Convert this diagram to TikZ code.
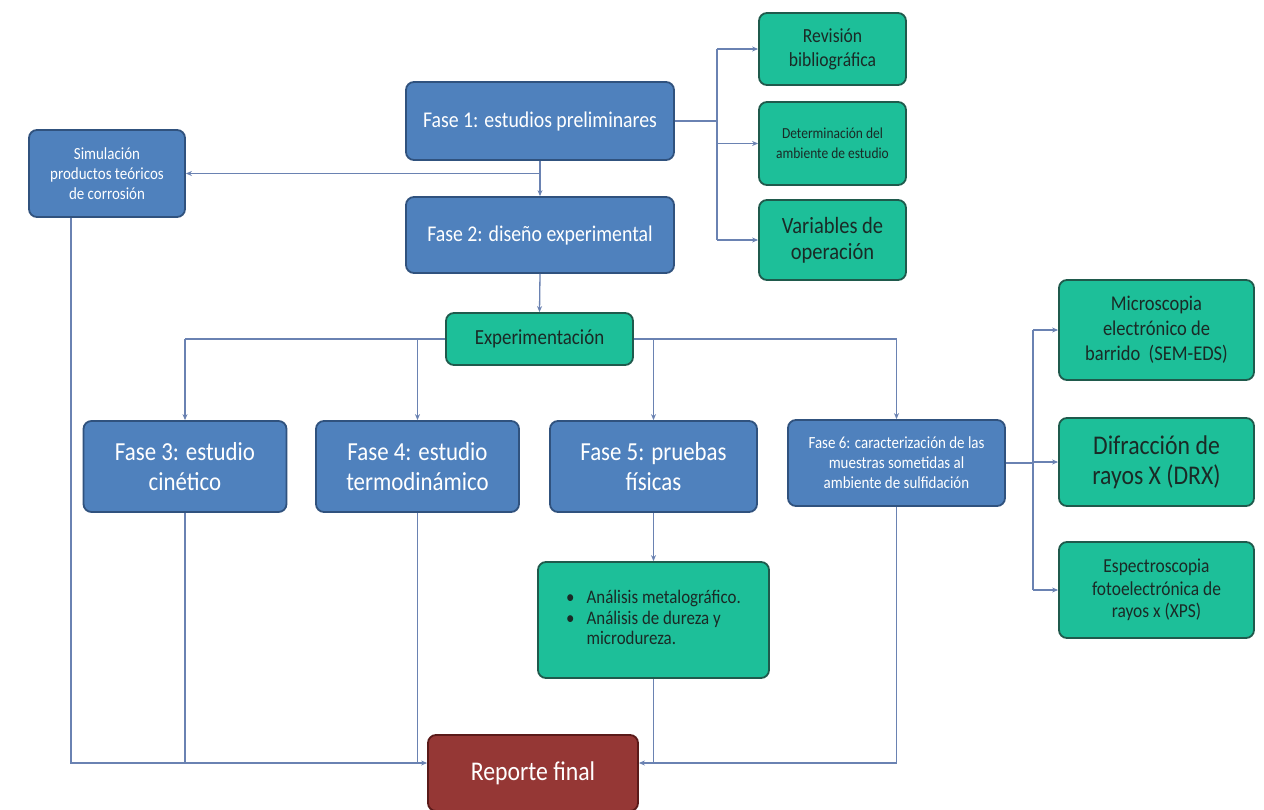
\documentclass[tikz,border=0pt]{standalone}
\usepackage{fontspec}
\setmainfont{Carlito}[FakeStretch=0.88]
\usetikzlibrary{arrows.meta}
\definecolor{bfill}{HTML}{4F81BD}
\definecolor{bdraw}{HTML}{30527E}
\definecolor{gfill}{HTML}{1DBF99}
\definecolor{gdraw}{HTML}{1F5A4C}
\definecolor{rfill}{HTML}{953735}
\definecolor{rdraw}{HTML}{5A1A19}
\definecolor{conn}{HTML}{6A82B2}
\definecolor{gtext}{HTML}{1A2A26}
\begin{document}
\begin{tikzpicture}[x=1pt,y=-1pt,
  box/.style={rectangle,rounded corners=8pt,line width=1.8pt,align=center,inner sep=2pt},
  bluebox/.style={box,fill=bfill,draw=bdraw,text=white},
  greenbox/.style={box,fill=gfill,draw=gdraw,text=gtext},
  redbox/.style={box,fill=rfill,draw=rdraw,text=white},
  fs/.style n args={2}{font=\fontsize{#1}{#2}\selectfont},
  line/.style={draw=conn,line width=1.3pt},
  arr/.style={line,-{Stealth[length=6pt,width=5pt]}}]
\useasboundingbox (0,0) rectangle (1264,809);
\fill[white] (0,0) rectangle (1264,809);

% nodes
\node[bluebox,fs={22.5}{26},minimum width=268pt,minimum height=78pt] (f1) at (540,121) {Fase 1: estudios preliminares};
\node[bluebox,fs={17}{20},minimum width=156pt,minimum height=87pt] (sim) at (107,173.5) {Simulación\\productos teóricos\\de corrosión};
\node[bluebox,fs={22.5}{26},minimum width=268pt,minimum height=76pt] (f2) at (540,235) {Fase 2: diseño experimental};
\node[greenbox,fs={20}{24},minimum width=147pt,minimum height=72pt] (rev) at (832.5,49) {Revisión\\bibliográfica};
\node[greenbox,fs={15.3}{20},minimum width=147pt,minimum height=83pt] (det) at (832.5,143.5) {Determinación del\\ambiente de estudio};
\node[greenbox,fs={23.3}{26},minimum width=147pt,minimum height=80pt] (var) at (832.5,240) {Variables de\\operación};
\node[greenbox,fs={21.5}{23},minimum width=187pt,minimum height=52pt] (exp) at (539.5,339) {Experimentación};
\node[bluebox,fs={26}{30},minimum width=203pt,minimum height=91pt] (f3) at (185,466.5) {Fase 3: estudio\\cinético};
\node[bluebox,fs={26}{30},minimum width=203pt,minimum height=91pt] (f4) at (417.5,466.5) {Fase 4: estudio\\termodinámico};
\node[bluebox,fs={26}{30},minimum width=207pt,minimum height=91pt] (f5) at (653.5,466.5) {Fase 5: pruebas\\físicas};
\node[bluebox,fs={17}{20},minimum width=217pt,minimum height=86pt] (f6) at (896.5,463) {Fase 6: caracterización de las\\muestras sometidas al\\ambiente de sulfidación};
\node[greenbox,fs={21}{25},minimum width=195pt,minimum height=100pt] (mic) at (1156.5,330) {Microscopia\\electrónico de\\barrido~~(SEM-EDS)};
\node[greenbox,fs={27}{30},minimum width=195pt,minimum height=88pt] (dif) at (1156.5,462) {Difracción de\\rayos X (DRX)};
\node[greenbox,fs={19.8}{22.5},minimum width=195pt,minimum height=96pt] (esp) at (1156.5,590) {Espectroscopia\\fotoelectrónica de\\rayos x (XPS)};
\node[greenbox,fs={19.2}{20.5},minimum width=231pt,minimum height=116pt] (ana) at (653.5,620)
  {\begin{tabular}{@{}l@{\hspace{12pt}}l@{}}•&Análisis metalográfico.\\•&Análisis de dureza y\\&microdureza.\end{tabular}};
\node[redbox,fs={27}{30},minimum width=210pt,minimum height=76pt] (rep) at (533,773) {Reporte final};

% connectors
\draw[arr] (f1.south) -- (f2.north);
\draw[arr] (f1.south |- sim.east) -- (sim.east);
\coordinate (j1) at ([xshift=42pt]f1.east);
\draw[line] (f1.east) -- (j1);
\draw[line] (j1 |- rev.west) -- (j1 |- var.west);
\draw[arr] (j1 |- rev.west) -- (rev.west);
\draw[arr] (j1 |- det.west) -- (det.west);
\draw[arr] (j1 |- var.west) -- (var.west);

\draw[arr] (f2.south) -- (exp.north);
\draw[line] (exp.west) -- (f3.north |- exp.west);
\draw[arr] (f3.north |- exp.west) -- (f3.north);
\draw[arr] (f4.north |- exp.west) -- (f4.north);
\draw[line] (exp.east) -- (f6.north |- exp.east);
\draw[arr] (f5.north |- exp.east) -- (f5.north);
\draw[arr] (f6.north |- exp.east) -- (f6.north);
\draw[arr] (f5.south) -- (ana.north);

\coordinate (j2) at ([xshift=27pt]f6.east);
\draw[line] (f6.east) -- (j2);
\draw[line] (j2 |- mic.west) -- (j2 |- esp.west);
\draw[arr] (j2 |- mic.west) -- (mic.west);
\draw[arr] (j2 |- dif.west) -- (dif.west);
\draw[arr] (j2 |- esp.west) -- (esp.west);

\coordinate (rl) at ([yshift=10pt]rep.west);
\coordinate (rr) at ([yshift=10pt]rep.east);
\coordinate (sb) at ([xshift=-36pt]sim.south);
\draw[arr] (sb) |- (rl);
\draw[line] (f3.south) -- (f3.south |- rl);
\draw[line] (f4.south) -- (f4.south |- rl);
\draw[arr] (f6.south) |- (rr);
\draw[line] (ana.south) -- (ana.south |- rr);
\end{tikzpicture}
\end{document}
